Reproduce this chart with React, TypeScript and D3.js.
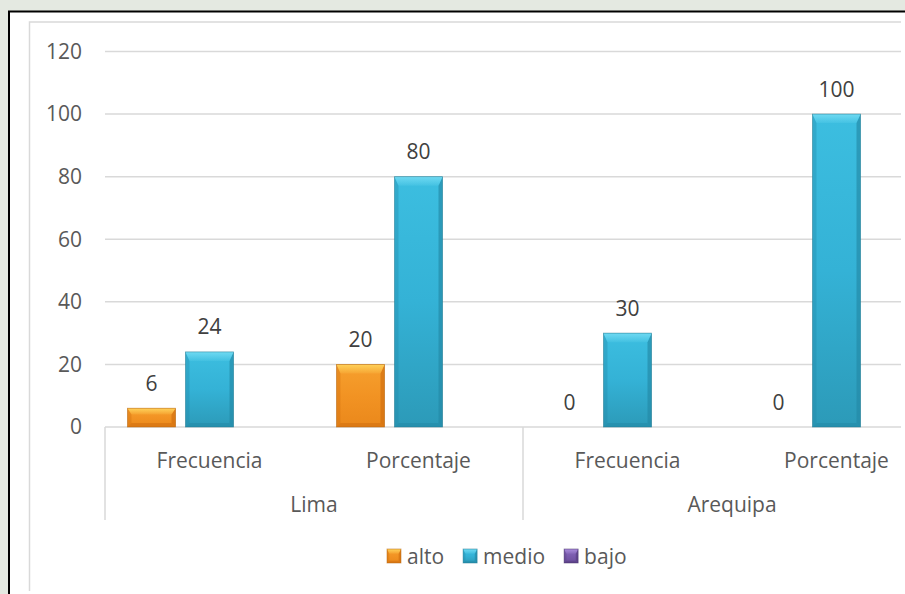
import React, { useEffect, useRef } from "react";
import * as d3 from "d3";

const regions = ["Lima", "Arequipa"];
const measures = ["Frecuencia", "Porcentaje"];
const seriesNames = ["alto", "medio", "bajo"];
const altoValues = [6, 20, 0, 0];
const medioValues = [24, 80, 30, 100];
const bajoValues: (number | null)[] = [null, null, null, null];
const yTicks = [0, 20, 40, 60, 80, 100, 120];

const W = 905;
const H = 594;
const FONT = "'Open Sans', sans-serif";
const TXT = "#595959";

const palette: Record<string, { top: string; mid: string; bot: string; hi: string; edge: string; line: string }> = {
  alto: { top: "#F6A02E", mid: "#F29323", bot: "#EA881B", hi: "#FFD45C", edge: "#CF6D0E", line: "#B0600E" },
  medio: { top: "#3CBEE0", mid: "#34B2D6", bot: "#2C9AB8", hi: "#72DBF3", edge: "#2388A6", line: "#22778E" },
  bajo: { top: "#8A6BBE", mid: "#7A5BAE", bot: "#6A4D9A", hi: "#A98CDB", edge: "#553C80", line: "#432F66" },
};

export default function App() {
  const ref = useRef<SVGSVGElement | null>(null);

  useEffect(() => {
    const svg = d3.select(ref.current);
    svg.selectAll("*").remove();

    const defs = svg.append("defs");
    seriesNames.forEach((s) => {
      const g = defs.append("linearGradient").attr("id", "g-" + s).attr("x1", 0).attr("y1", 0).attr("x2", 0).attr("y2", 1);
      g.append("stop").attr("offset", "0%").attr("stop-color", palette[s].top);
      g.append("stop").attr("offset", "50%").attr("stop-color", palette[s].mid);
      g.append("stop").attr("offset", "100%").attr("stop-color", palette[s].bot);
      const h = defs.append("linearGradient").attr("id", "h-" + s).attr("x1", 0).attr("y1", 0).attr("x2", 0).attr("y2", 1);
      h.append("stop").attr("offset", "0%").attr("stop-color", palette[s].hi).attr("stop-opacity", 0.95);
      h.append("stop").attr("offset", "100%").attr("stop-color", palette[s].hi).attr("stop-opacity", 0.15);
      const e = defs.append("linearGradient").attr("id", "e-" + s).attr("x1", 0).attr("y1", 0).attr("x2", 1).attr("y2", 0);
      e.append("stop").attr("offset", "0%").attr("stop-color", palette[s].edge).attr("stop-opacity", 0.7);
      e.append("stop").attr("offset", "100%").attr("stop-color", palette[s].edge).attr("stop-opacity", 0.1);
    });
    defs.append("clipPath").attr("id", "clipInner").append("rect").attr("x", 0).attr("y", 0).attr("width", 901).attr("height", 591);

    // watermark strips
    svg.append("rect").attr("x", 0).attr("y", 0).attr("width", W).attr("height", 11).attr("fill", "#e4e9e1");
    svg.append("rect").attr("x", 0).attr("y", 0).attr("width", 8).attr("height", H).attr("fill", "#e4e9e1");
    svg.append("rect").attr("x", 8).attr("y", 11).attr("width", W).attr("height", H).attr("fill", "#ffffff");

    const inner = svg.append("g").attr("clip-path", "url(#clipInner)");
    inner.append("rect").attr("x", 29.5).attr("y", 22).attr("width", 1000).attr("height", 1000)
      .attr("fill", "none").attr("stroke", "#D9D9D9").attr("stroke-width", 1.5);

    const plotLeft = 105;
    const groupWidth = 418;
    const x = d3.scaleBand<number>().domain(d3.range(4)).range([plotLeft, plotLeft + groupWidth * 2]).paddingInner(0).paddingOuter(0);
    const xs = d3.scaleBand<string>().domain(seriesNames).range([0, x.bandwidth()]).paddingInner(0.172).paddingOuter(0.388);
    const y = d3.scaleLinear().domain([0, 120]).range([427, 51.5]);

    // gridlines
    inner.append("g").selectAll("line").data(yTicks).join("line")
      .attr("x1", plotLeft).attr("x2", 1000)
      .attr("y1", (d) => y(d)).attr("y2", (d) => y(d))
      .attr("stroke", "#D9D9D9").attr("stroke-width", 1.5);

    // y tick labels
    svg.append("g").selectAll("text").data(yTicks).join("text")
      .attr("x", 82).attr("y", (d) => y(d)).attr("dy", "0.35em")
      .attr("text-anchor", "end").attr("font-family", FONT).attr("font-size", 21).attr("fill", TXT)
      .text((d) => String(d));

    // category axis dividers
    const divX = [plotLeft, plotLeft + groupWidth, plotLeft + groupWidth * 2];
    inner.append("g").selectAll("line").data(divX).join("line")
      .attr("x1", (d) => d).attr("x2", (d) => d).attr("y1", y(0)).attr("y2", 520)
      .attr("stroke", "#D9D9D9").attr("stroke-width", 1.5);

    const cats = d3.range(4);
    inner.append("g").selectAll("text").data(cats).join("text")
      .attr("x", (i) => (x(i) as number) + x.bandwidth() / 2).attr("y", 461).attr("dy", "0.35em")
      .attr("text-anchor", "middle").attr("font-family", FONT).attr("font-size", 21).attr("fill", TXT)
      .text((i) => measures[i % 2]);
    inner.append("g").selectAll("text").data(regions).join("text")
      .attr("x", (_d, i) => plotLeft + groupWidth * i + groupWidth / 2).attr("y", 505).attr("dy", "0.35em")
      .attr("text-anchor", "middle").attr("font-family", FONT).attr("font-size", 21).attr("fill", TXT)
      .text((d) => d);

    const seriesData: Record<string, (number | null)[]> = { alto: altoValues, medio: medioValues, bajo: bajoValues };

    const drawBar = (g: any, s: string, bx: number, by: number, bw: number, bh: number) => {
      if (bh <= 0) return;
      const p = palette[s];
      const bev = Math.min(9, bh / 3);
      const e = Math.min(4, bw / 6);
      g.append("rect").attr("x", bx).attr("y", by).attr("width", bw).attr("height", bh).attr("fill", `url(#g-${s})`);
      // left/right edges
      g.append("polygon").attr("points", `${bx},${by} ${bx + e},${by + bev} ${bx + e},${by + bh - e} ${bx},${by + bh}`).attr("fill", p.edge).attr("opacity", 0.35);
      g.append("polygon").attr("points", `${bx + bw},${by} ${bx + bw - e},${by + bev} ${bx + bw - e},${by + bh - e} ${bx + bw},${by + bh}`).attr("fill", p.edge).attr("opacity", 0.65);
      // bottom
      g.append("polygon").attr("points", `${bx},${by + bh} ${bx + e},${by + bh - e} ${bx + bw - e},${by + bh - e} ${bx + bw},${by + bh}`).attr("fill", p.edge).attr("opacity", 0.55);
      // top bevel
      g.append("polygon").attr("points", `${bx},${by} ${bx + bw},${by} ${bx + bw - e},${by + bev} ${bx + e},${by + bev}`).attr("fill", `url(#h-${s})`);
      g.append("rect").attr("x", bx).attr("y", by).attr("width", bw).attr("height", bh).attr("fill", "none").attr("stroke", p.line).attr("stroke-width", 0.8).attr("opacity", 0.6);
    };

    const bars = inner.append("g");
    seriesNames.forEach((s) => {
      seriesData[s].forEach((v, i) => {
        if (v === null || v === undefined) return;
        const bx = (x(i) as number) + (xs(s) as number);
        const bw = xs.bandwidth();
        const by = y(v);
        const bh = y(0) - y(v);
        drawBar(bars.append("g"), s, bx, by, bw, bh);
        inner.append("text").attr("x", bx + bw / 2).attr("y", by - 17.5)
          .attr("text-anchor", "middle").attr("font-family", FONT).attr("font-size", 21).attr("fill", "#404040")
          .text(String(v));
      });
    });

    // legend
    const leg = svg.append("g");
    let lx = 387;
    seriesNames.forEach((s) => {
      drawBar(leg.append("g"), s, lx, 549, 14, 14);
      const t = leg.append("text").attr("x", lx + 20).attr("y", 557).attr("dy", "0.35em")
        .attr("font-family", FONT).attr("font-size", 21).attr("fill", TXT).text(s);
      const tw = (t.node() as SVGTextElement).getComputedTextLength();
      lx = lx + 20 + tw + 19;
    });

    // outer black border
    svg.append("rect").attr("x", 9).attr("y", 11.5).attr("width", 1000).attr("height", 1000)
      .attr("fill", "none").attr("stroke", "#000").attr("stroke-width", 2);
  }, []);

  return (
    <div style={{ position: "absolute", left: 0, top: 0 }}>
      <svg ref={ref} width={W} height={H} style={{ display: "block" }} />
    </div>
  );
}
